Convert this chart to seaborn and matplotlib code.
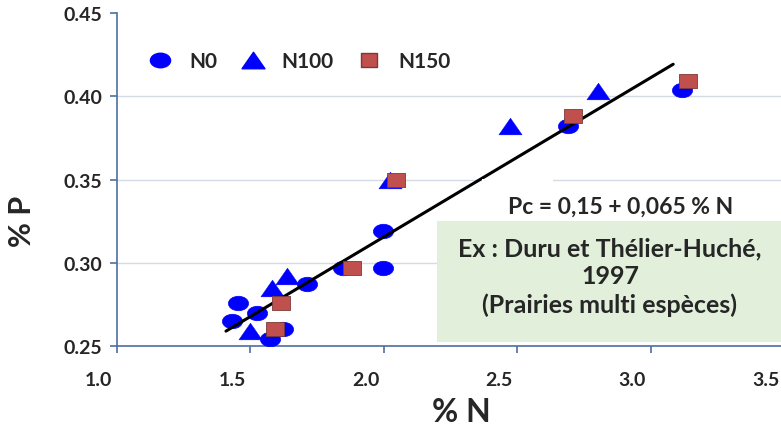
import numpy as np
import pandas as pd
import seaborn as sns
import matplotlib.pyplot as plt
from matplotlib.path import Path
from matplotlib.lines import Line2D
from matplotlib.patches import Rectangle
import matplotlib.transforms as mtransforms

# Data
n0_x = [1.433, 1.455, 1.526, 1.575, 1.624, 1.713, 1.848, 1.998, 1.998, 2.691, 3.118]
n0_y = [0.265, 0.276, 0.270, 0.254, 0.260, 0.287, 0.297, 0.297, 0.319, 0.382, 0.404]
n100_x = [1.500, 1.582, 1.639, 2.024, 2.473, 2.803]
n100_y = [0.259, 0.285, 0.292, 0.350, 0.382, 0.403]
n150_x = [1.594, 1.616, 1.882, 2.047, 2.709, 3.140]
n150_y = [0.260, 0.276, 0.297, 0.350, 0.388, 0.409]

fit_x = [1.41, 3.085]
fit_intercept = 0.124
fit_slope = 0.0957

x_ticks = [1.0, 1.5, 2.0, 2.5, 3.0, 3.5]
y_ticks = [0.25, 0.30, 0.35, 0.40, 0.45]

df = pd.concat([
    pd.DataFrame({'N': n0_x, 'P': n0_y, 'group': 'N0'}),
    pd.DataFrame({'N': n100_x, 'P': n100_y, 'group': 'N100'}),
    pd.DataFrame({'N': n150_x, 'P': n150_y, 'group': 'N150'}),
])
fit = pd.DataFrame({'N': fit_x})
fit['P'] = fit_intercept + fit_slope * fit['N']

sns.set_style('white')
plt.rcParams['font.family'] = ['Lato', 'DejaVu Sans']
plt.rcParams['font.weight'] = 'bold'

# custom marker shapes (ellipse, flat triangle, small rectangle)
ellipse = Path.unit_circle().transformed(mtransforms.Affine2D().scale(1, 0.72))
tri = Path([(-1, -0.72), (1, -0.72), (0, 0.72), (-1, -0.72)],
           [Path.MOVETO, Path.LINETO, Path.LINETO, Path.CLOSEPOLY])
rect = Path([(-1, -0.82), (1, -0.82), (1, 0.82), (-1, 0.82), (-1, -0.82)],
            [Path.MOVETO, Path.LINETO, Path.LINETO, Path.LINETO, Path.CLOSEPOLY])

blue = '#0000ff'
red = '#c0504d'
axis_col = '#4f6f9f'

fig = plt.figure(figsize=(7.81, 4.31), dpi=100)
ax = fig.add_axes([116.5 / 781, 1 - 347 / 431, (784 - 116.5) / 781, 333 / 431])

sns.scatterplot(data=df[df.group == 'N0'], x='N', y='P', marker=ellipse, s=210,
                color=blue, edgecolor=blue, linewidth=0.5, ax=ax, zorder=3)
sns.scatterplot(data=df[df.group == 'N100'], x='N', y='P', marker=tri, s=280,
                color=blue, edgecolor=blue, linewidth=0.3, ax=ax, zorder=4)
sns.lineplot(data=fit, x='N', y='P', color='black', linewidth=2.2, ax=ax, zorder=5)
sns.scatterplot(data=df[df.group == 'N150'], x='N', y='P', marker=rect, s=150,
                color=red, edgecolor='#7a3a38', linewidth=0.6, ax=ax, zorder=6)

ax.set_xlim(1.0, 3.5)
ax.set_ylim(0.25, 0.45)
ax.set_xticks(x_ticks)
ax.set_yticks(y_ticks)
ax.set_xticklabels([])
ax.set_yticklabels([f'{v:.2f}' for v in y_ticks], fontsize=14, fontweight='bold')

# x tick labels sit a bit left of their ticks, as in the original
shift = ax.get_xaxis_transform() + mtransforms.ScaledTranslation(-0.18, -0.34, fig.dpi_scale_trans)
for v in x_ticks:
    ax.text(v, 0, f'{v:.1f}', transform=shift, ha='center', va='center',
            fontsize=14, fontweight='bold', clip_on=False)

ax.yaxis.grid(True, color='#d5dbe5', linewidth=1)
ax.get_ygridlines()[-1].set_visible(False)
ax.set_axisbelow(True)
for s in ['top', 'right']:
    ax.spines[s].set_visible(False)
for s in ['left', 'bottom']:
    ax.spines[s].set_color(axis_col)
    ax.spines[s].set_linewidth(1.2)
ax.tick_params(axis='y', direction='out', length=5, color=axis_col, width=1.2, pad=5, left=True)
ax.tick_params(axis='x', direction='out', length=5, color=axis_col, width=1.2, bottom=True)

ax.set_xlabel('')
ax.set_ylabel('')
fig.text(461 / 781, 1 - 413 / 431, '% N', fontsize=23, fontweight='bold', ha='center', va='center')
fig.text(22 / 781, 1 - 221 / 431, '% P', fontsize=22, fontweight='bold', ha='center', va='center',
         rotation=90)

# legend
handles = [
    Line2D([], [], linestyle='none', marker=ellipse, markersize=14.5, color=blue),
    Line2D([], [], linestyle='none', marker=tri, markersize=16.5, color=blue),
    Line2D([], [], linestyle='none', marker=rect, markersize=12, color=red, markeredgecolor='#7a3a38'),
]
ax.legend(handles, ['N0', 'N100', 'N150'], loc='center left', bbox_to_anchor=(0.012, 0.856),
          ncol=3, frameon=False, prop={'size': 15, 'weight': 'bold'},
          handletextpad=0.6, columnspacing=0.9, handlelength=1.6)

# annotation boxes
fig.patches.append(Rectangle((482 / 781, 1 - 232 / 431), 71 / 781, 52 / 431,
                             transform=fig.transFigure, facecolor='white', edgecolor='none', zorder=8))
fig.patches.append(Rectangle((437 / 781, 1 - 343 / 431), 344 / 781, 121 / 431,
                             transform=fig.transFigure, facecolor='#e2efda', edgecolor='none', zorder=8))
fig.text(621 / 781, 1 - 207 / 431, 'Pc = 0,15 + 0,065 % N', fontsize=16.5, fontweight='bold',
         ha='center', va='center', zorder=9)
fig.text(610 / 781, 1 - 277 / 431, 'Ex : Duru et Thélier-Huché,\n1997\n(Prairies multi espèces)',
         fontsize=18, fontweight='bold', ha='center', va='center', linespacing=1.27, zorder=9)

fig.savefig('out.png', dpi=100)
